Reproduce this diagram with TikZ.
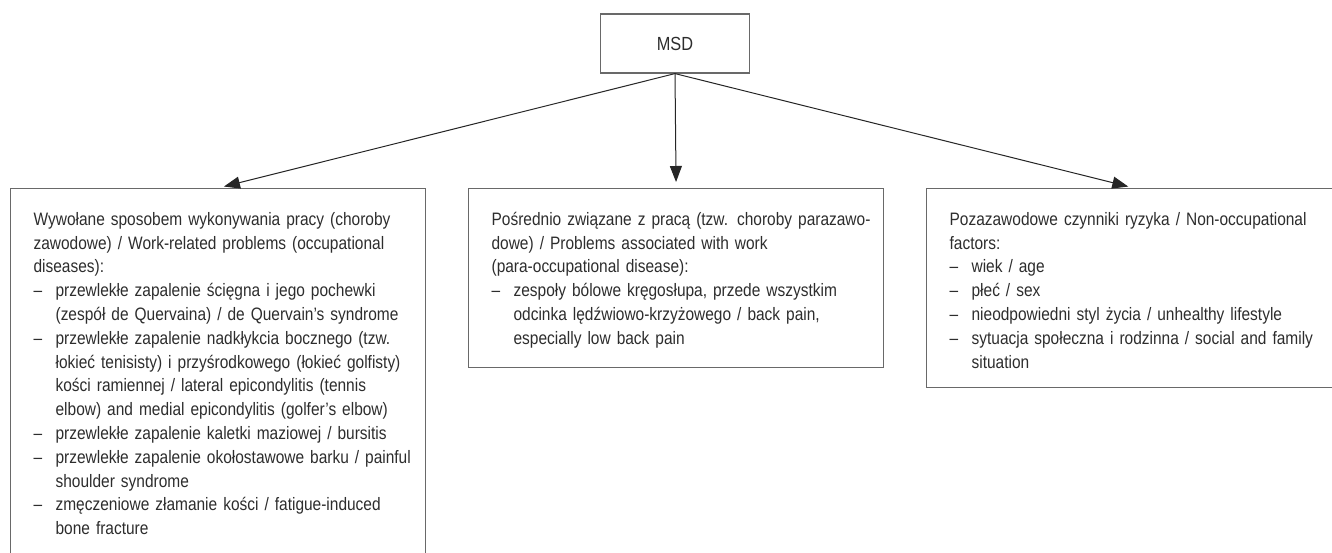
\documentclass[tikz,border=0pt]{standalone}
\usepackage{fontspec}
\setmainfont[FakeStretch=0.86]{Liberation Sans}
\usetikzlibrary{arrows.meta}
\definecolor{gristexte}{RGB}{45,45,45}
\definecolor{griscadre}{RGB}{105,105,105}
\newcommand\topstrut{\rule{0pt}{8.8pt}}
\newcommand\headline[1]{\mbox{#1}}
\newcommand\itemline[1]{\mbox{\makebox[11pt][l]{\textendash}#1}}
\newcommand\contline[1]{\mbox{\hspace*{11pt}#1}}

\begin{document}
\begin{tikzpicture}[x=0.5pt,y=0.5pt,
  cadre/.style={draw=griscadre, line width=0.6pt, text=gristexte},
  boite/.style={cadre, anchor=north west, align=left, text width=184.5pt,
    inner xsep=11.5pt, inner ysep=9.6pt, font={\fontsize{9pt}{11.9pt}\selectfont}},
  fleche/.style={-{Triangle[length=8pt,width=6pt]}, draw=black!85, line width=0.5pt, shorten >=3pt}]
\useasboundingbox (0,0) rectangle (1332,552);

\node [cadre, minimum width=74.5pt, minimum height=29.5pt, font={\fontsize{9.5pt}{11pt}\selectfont}] (msd) at (675,508.5) {MSD};

\node [boite] (praca) at (10,364) {\topstrut\headline{Wywołane sposobem wykonywania pracy (choroby}\\
\headline{zawodowe) / Work-related problems (occupational}\\
\headline{diseases):}\\
\itemline{przewlekłe zapalenie ścięgna i jego pochewki}\\
\contline{(zespół de Quervaina) / de Quervain’s syndrome}\\
\itemline{przewlekłe zapalenie nadkłykcia bocznego (tzw.}\\
\contline{łokieć tenisisty) i przyśrodkowego (łokieć golfisty)}\\
\contline{kości ramiennej / lateral epicondylitis (tennis}\\
\contline{elbow) and medial epicondylitis (golfer’s elbow)}\\
\itemline{przewlekłe zapalenie kaletki maziowej / bursitis}\\
\itemline{przewlekłe zapalenie okołostawowe barku / painful}\\
\contline{shoulder syndrome}\\
\itemline{zmęczeniowe złamanie kości / fatigue-induced}\\
\contline{bone fracture}};

\node [boite] (posrednio) at (468,364) {\topstrut\headline{Pośrednio związane z pracą (tzw. choroby parazawo-}\\
\headline{dowe) / Problems associated with work}\\
\headline{(para-occupational disease):}\\
\itemline{zespoły bólowe kręgosłupa, przede wszystkim}\\
\contline{odcinka lędźwiowo-krzyżowego / back pain,}\\
\contline{especially low back pain}};

\node [boite] (pozazawodowe) at (926,364) {\topstrut\headline{Pozazawodowe czynniki ryzyka / Non-occupational}\\
\headline{factors:}\\
\itemline{wiek / age}\\
\itemline{płeć / sex}\\
\itemline{nieodpowiedni styl życia / unhealthy lifestyle}\\
\itemline{sytuacja społeczna i rodzinna / social and family}\\
\contline{situation}};

\draw [fleche] (msd.south) -- (praca.north);
\draw [fleche] (msd.south) -- (posrednio.north);
\draw [fleche] (msd.south) -- (pozazawodowe.north);

\end{tikzpicture}
\end{document}
